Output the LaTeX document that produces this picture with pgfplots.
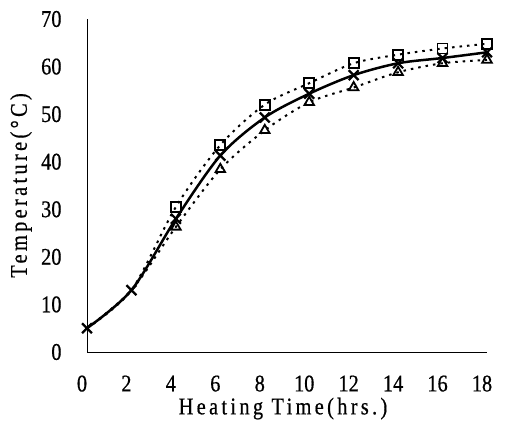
\documentclass[border=0pt]{standalone}
\usepackage{fontspec}
\setmainfont[FakeStretch=0.85, FakeBold=0.6]{Liberation Serif}
\usepackage{pgfplots}
\pgfplotsset{compat=1.18}
\pgfplotstableread{
x sq cr tr
0 5 5 5
2 13 13 13
4 30.5 28 26.3
6 43.5 41.3 38.4
8 52 49.3 46.6
10 56.5 54.3 52.5
12 60.7 58.2 55.6
14 62.5 60.7 58.8
16 63.8 61.8 60.7
18 64.8 63 61.4
}\datatable
\begin{document}
\begin{tikzpicture}
\begin{axis}[
 at={(87bp,-352bp)}, anchor=south west,
 scale only axis, width=400bp, height=333bp,
 xmin=0, xmax=18, ymin=0, ymax=70,
 axis x line*=bottom, axis y line*=left,
 axis line style={line width=0.8bp, -},
 xtick={0,2,...,18}, ytick={0,10,...,70},
 major tick length=0pt,
 /pgf/number format/assume math mode=true,
 tick label style={font=\fontsize{24}{27}\selectfont},
 xticklabel style={yshift=-20bp, xshift=-5bp},
 yticklabel style={xshift=-22bp},
 xlabel={Heating Time(hrs.)},
 ylabel={Temperature(°C)},
 label style={font=\fontsize{24}{27}\selectfont\addfontfeature{LetterSpace=14}},
 xlabel style={at={(axis description cs:0.49,-0.17)}, anchor=center},
 ylabel style={at={(axis description cs:-0.165,0.5)}, anchor=center},
 clip=false,
]
\addplot[black, line width=2bp, dash pattern=on 2.5bp off 5bp, smooth,
  mark=square, mark size=5bp, mark indices={3,...,10},
  mark options={solid, fill=white, line width=1.8bp}] table[x=x,y=sq] {\datatable};
\addplot[black, line width=2bp, dash pattern=on 2.5bp off 5bp, smooth,
  mark=triangle, mark size=5.5bp, mark indices={3,...,10},
  mark options={solid, fill=white, line width=1.8bp}] table[x=x,y=tr] {\datatable};
\addplot[black, line width=2.5bp, smooth,
  mark=x, mark size=7bp,
  mark options={solid, line width=2.2bp}] table[x=x,y=cr] {\datatable};
\end{axis}
\pgfresetboundingbox
\path (0,0) rectangle (511bp,-422bp);
\end{tikzpicture}
\end{document}
